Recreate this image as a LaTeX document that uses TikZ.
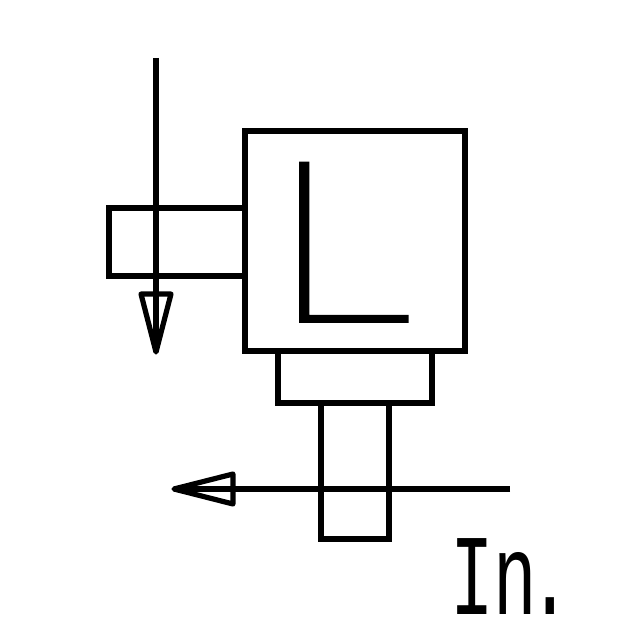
\documentclass[tikz,border=0pt]{standalone}
\usepackage{fontspec}
\setmainfont{Liberation Sans}
\newfontfamily\letterfont[FakeBold=2.5]{Lato Thin}
\newfontfamily\notefont{Liberation Mono}
\usetikzlibrary{positioning}
\tikzset{
  part/.style={draw=black,line width=1.3mm,fill=none,line join=miter},
  rod/.style={draw=black,line width=1.3mm},
  tip/.style={draw=black,line width=1.3mm,line join=round},
  bigletter/.style={inner sep=0pt,anchor=base west,xscale=1.25,transform shape,font=\letterfont\fontsize{158pt}{158pt}\selectfont},
  smallnote/.style={inner sep=0pt,anchor=base west,xscale=0.63,transform shape,font=\notefont\fontsize{82pt}{82pt}\selectfont}
}
\begin{document}
\begin{tikzpicture}
\useasboundingbox (0,0) rectangle (16,16);
\draw[part] (6.125,7.225) rectangle (11.625,12.725);
\draw[part] (6.95,5.925) rectangle (10.8,7.225);
\draw[part] (8.025,2.525) rectangle (9.725,5.925);
\draw[part] (2.725,9.1) rectangle (6.125,10.8);

\coordinate (top) at (3.9,14.55);
\coordinate (tipv) at (3.9,7.2);
\coordinate (right) at (12.75,3.775);
\coordinate (tiph) at (4.35,3.775);
\draw[rod] (top) -- (tipv);
\draw[tip] (3.525,8.65) -- (4.275,8.65) -- (tipv) -- cycle;
\draw[rod] (right) -- (tiph);
\draw[tip] (5.825,4.15) -- (5.825,3.4) -- (tiph) -- cycle;

\node[bigletter] (letter) at (6.75,8.0) {L};
\node[smallnote] (note) at (11.25,0.63) {In\kern-10pt.};
\end{tikzpicture}
\end{document}
